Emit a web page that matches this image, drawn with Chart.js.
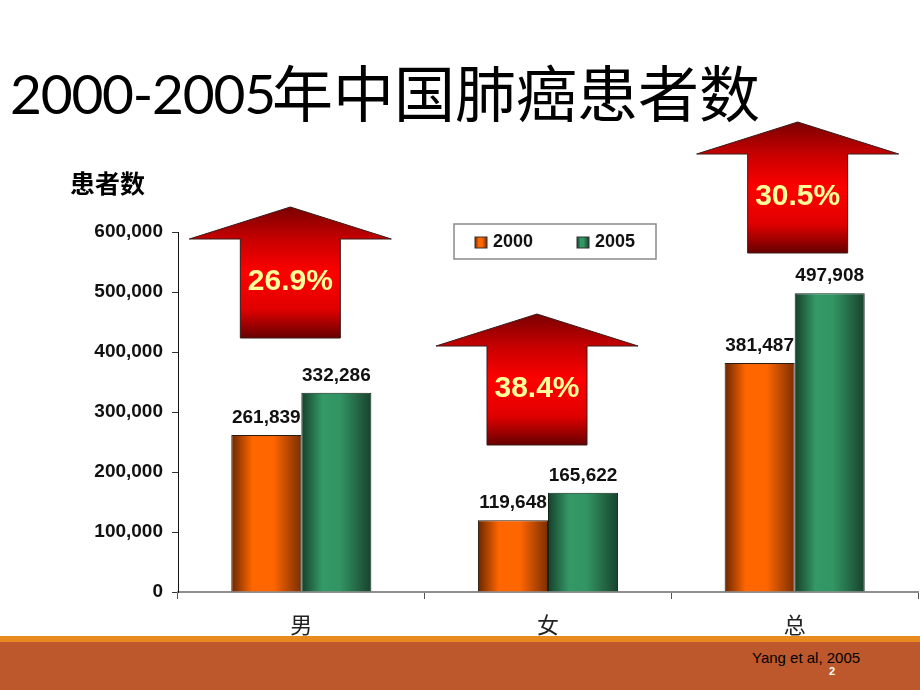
<!DOCTYPE html>
<html>
<head>
<meta charset="utf-8">
<script src="https://cdn.jsdelivr.net/npm/chart.js@4.4.1/dist/chart.umd.min.js"></script>
<style>
    html, body { margin: 0; padding: 0; background: #fff; }
    body { width: 920px; height: 690px; position: relative; overflow: hidden; font-family: "Liberation Sans", Arial, sans-serif; }
    .title { position: absolute; white-space: nowrap; color: #000; line-height: 80px; }
    #titleNum { left: 10px; top: 53px; font-family: Lato, "Open Sans", sans-serif; font-size: 55px; letter-spacing: -1.2px; }
    #titleCjk { left: 272px; top: 51px; font-family: "Noto Sans CJK SC", sans-serif; font-size: 61px; }
    #footLine { position: absolute; left: 0; top: 636px; width: 920px; height: 6px; background: #E88A1E; }
    #foot { position: absolute; left: 0; top: 642px; width: 920px; height: 48px; background: #BC582B; }
    #source { position: absolute; left: 752px; top: 649px; font-size: 15px; color: #000; }
    #page { position: absolute; left: 829px; top: 665px; font-size: 11px; font-weight: bold; color: #fff; }
    #chartBox { position: absolute; left: 0; top: 0; width: 920px; height: 690px; }
</style>
</head>
<body>
<div id="footLine"></div>
<div id="foot"></div>
<div id="source">Yang et al, 2005</div>
<div id="page">2</div>
<div class="title" id="titleNum">2000-2005</div>
<div class="title" id="titleCjk">年中国肺癌患者数</div>
<div id="chartBox"><canvas id="lungChart" width="920" height="690"></canvas></div>

<script>
// chart data
const categories = ['男', '女', '总'];
const seriesNames = ['2000', '2005'];
const cases2000 = [261839, 119648, 381487];
const cases2005 = [332286, 165622, 497908];
const growthLabels = ['26.9%', '38.4%', '30.5%'];
const yTickValues = [0, 100000, 200000, 300000, 400000, 500000, 600000];
const yAxisTitle = '患者数';

// bar shading (left edge, highlight, right edge)
const orangeShade = [[0, '#6a2600'], [0.3, '#ff6600'], [0.6, '#ff6600'], [1, '#7a2e00']];
const greenShade = [[0, '#163f2a'], [0.3, '#339966'], [0.55, '#329563'], [1, '#17422c']];

// where the red arrows sit, relative to each category centre
const arrowLayout = [
    { dx: -11, tip: 207 },
    { dx: -11, tip: 314 },
    { dx: 3, tip: 122 }
];

function fmt(v) {
    return v.toLocaleString('en-US');
}

function makeGradient(ctx, x0, x1, stops) {
    const g = ctx.createLinearGradient(x0, 0, x1, 0);
    stops.forEach(s => g.addColorStop(s[0], s[1]));
    return g;
}

// give every bar its own horizontal gradient
const barShading = {
    id: 'barShading',
    beforeDatasetsDraw(chart) {
        const ctx = chart.ctx;
        chart.data.datasets.forEach((ds, i) => {
            chart.getDatasetMeta(i).data.forEach(bar => {
                const left = bar.x - bar.width / 2;
                const right = bar.x + bar.width / 2;
                bar.options = Object.assign({}, bar.options, {
                    backgroundColor: makeGradient(ctx, left, right, ds.shade)
                });
            });
        });
    }
};

// values above the bars
const barValues = {
    id: 'barValues',
    afterDatasetsDraw(chart) {
        const ctx = chart.ctx;
        ctx.save();
        ctx.font = 'bold 19px "Liberation Sans", Arial, sans-serif';
        ctx.fillStyle = '#111';
        ctx.textAlign = 'center';
        ctx.textBaseline = 'alphabetic';
        chart.data.datasets.forEach((ds, i) => {
            chart.getDatasetMeta(i).data.forEach((bar, j) => {
                ctx.fillText(fmt(ds.data[j]), bar.x, bar.y - 12);
            });
        });
        ctx.restore();
    }
};

// red growth arrows, axis title and legend box
const extras = {
    id: 'extras',
    afterDraw(chart) {
        const ctx = chart.ctx;
        const xs = chart.scales.x;
        const area = chart.chartArea;
        ctx.save();

        arrowLayout.forEach((a, i) => {
            const cx = xs.getPixelForValue(i) + a.dx;
            const top = a.tip;
            const headBase = top + 32;
            const bottom = top + 131;
            const g = ctx.createLinearGradient(0, top, 0, bottom);
            g.addColorStop(0, '#7a0000');
            g.addColorStop(0.25, '#c80000');
            g.addColorStop(0.5, '#ff0000');
            g.addColorStop(0.78, '#e00000');
            g.addColorStop(1, '#680000');
            ctx.beginPath();
            ctx.moveTo(cx, top);
            ctx.lineTo(cx + 101, headBase);
            ctx.lineTo(cx + 50, headBase);
            ctx.lineTo(cx + 50, bottom);
            ctx.lineTo(cx - 50, bottom);
            ctx.lineTo(cx - 50, headBase);
            ctx.lineTo(cx - 101, headBase);
            ctx.closePath();
            ctx.fillStyle = g;
            ctx.fill();
            ctx.lineWidth = 1;
            ctx.strokeStyle = '#3a1a1a';
            ctx.stroke();

            ctx.font = 'bold 30px "Liberation Sans", Arial, sans-serif';
            ctx.fillStyle = '#ffff99';
            ctx.textAlign = 'center';
            ctx.textBaseline = 'middle';
            ctx.fillText(growthLabels[i], cx, top + 75);
        });

        // axis title
        ctx.font = 'bold 25px "Noto Sans CJK SC", sans-serif';
        ctx.fillStyle = '#000';
        ctx.textAlign = 'left';
        ctx.textBaseline = 'middle';
        ctx.fillText(yAxisTitle, 70, 183);

        // legend box
        const lx = area.left + 276, ly = area.top - 8, lw = 202, lh = 35;
        ctx.fillStyle = '#fff';
        ctx.fillRect(lx, ly, lw, lh);
        ctx.strokeStyle = '#8a8a8a';
        ctx.lineWidth = 1.5;
        ctx.strokeRect(lx, ly, lw, lh);
        ctx.font = 'bold 18px "Liberation Sans", Arial, sans-serif';
        ctx.textBaseline = 'middle';
        chart.data.datasets.forEach((ds, i) => {
            const sx = lx + 21 + i * 102;
            const sy = ly + 13;
            ctx.fillStyle = makeGradient(ctx, sx, sx + 12, ds.shade);
            ctx.fillRect(sx, sy, 12, 11);
            ctx.strokeStyle = '#333';
            ctx.lineWidth = 1;
            ctx.strokeRect(sx, sy, 12, 11);
            ctx.fillStyle = '#111';
            ctx.fillText(ds.label, sx + 18, ly + lh / 2 + 1);
        });

        ctx.restore();
    }
};

new Chart(document.getElementById('lungChart').getContext('2d'), {
    type: 'bar',
    data: {
        labels: categories,
        datasets: [
            {
                label: seriesNames[0],
                data: cases2000,
                shade: orangeShade,
                backgroundColor: () => '#ff6600',
                borderColor: '#2a1a10',
                borderWidth: 1,
                categoryPercentage: 0.568,
                barPercentage: 1
            },
            {
                label: seriesNames[1],
                data: cases2005,
                shade: greenShade,
                backgroundColor: () => '#339966',
                borderColor: '#10261a',
                borderWidth: 1,
                categoryPercentage: 0.568,
                barPercentage: 1
            }
        ]
    },
    options: {
        responsive: false,
        animation: false,
        layout: { padding: { top: 232, right: 2, left: 0, bottom: 0 } },
        plugins: {
            legend: { display: false },
            tooltip: { enabled: false }
        },
        scales: {
            x: {
                afterFit: scale => { scale.height = 98; },
                border: { display: true, color: '#8f8f8f', width: 2 },
                grid: { drawOnChartArea: false, drawTicks: true, tickLength: 7, color: '#555', offset: true },
                ticks: {
                    padding: 12,
                    color: '#222',
                    font: { family: '"Noto Sans CJK SC", sans-serif', size: 22 }
                }
            },
            y: {
                min: yTickValues[0],
                max: yTickValues[yTickValues.length - 1],
                afterFit: scale => { scale.width = 178; },
                border: { display: true, color: '#111', width: 1 },
                grid: { drawOnChartArea: false, drawTicks: true, tickLength: 6, color: '#333' },
                ticks: {
                    stepSize: yTickValues[1] - yTickValues[0],
                    padding: 9,
                    color: '#111',
                    font: { family: '"Liberation Sans", Arial, sans-serif', size: 19, weight: 'bold' },
                    callback: v => fmt(v)
                }
            }
        }
    },
    plugins: [barShading, barValues, extras]
});
</script>
</body>
</html>
